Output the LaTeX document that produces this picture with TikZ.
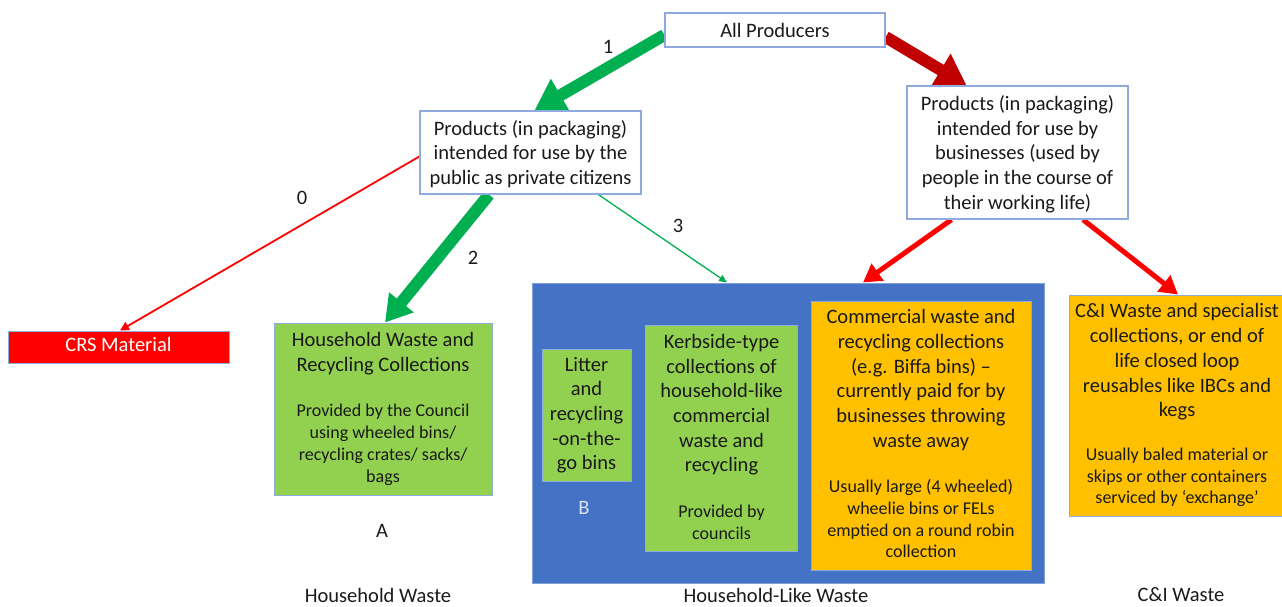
\documentclass[tikz,border=0pt]{standalone}
\usepackage{fontspec}
\setmainfont{Carlito}
\usetikzlibrary{arrows.meta}
\definecolor{bd}{HTML}{8FAADC}
\definecolor{grn}{HTML}{92D050}
\definecolor{org}{HTML}{FFC000}
\definecolor{blu}{HTML}{4472C4}
\definecolor{agrn}{HTML}{00B050}
\definecolor{dred}{HTML}{C00000}
\definecolor{rred}{HTML}{FF0000}
\definecolor{lblu}{HTML}{DAE3F3}
\definecolor{txt}{HTML}{1A1A1A}
\newcommand{\ftitle}{\fontsize{20.5}{24.7}\selectfont}
\newcommand{\fsub}{\fontsize{18}{21.7}\selectfont}
\newcommand{\tbk}[2]{{#1\begin{tabular}{@{}c@{}}#2\end{tabular}}}
\newcommand{\tbd}[2]{{#1\raisebox{0pt}[\dimexpr\height+5pt\relax][\depth]{\begin{tabular}{@{}c@{}}#2\end{tabular}}}}
\pgfdeclarelayer{bg}
\pgfsetlayers{bg,main}
\begin{document}
\begin{tikzpicture}[x=1pt,y=-1pt,
  wbox/.style={draw=bd, line width=1.3pt, fill=white, inner sep=0pt, align=center, text=txt},
  gbox/.style={draw=bd, line width=1pt, fill=grn, inner sep=0pt, align=center, text=txt},
  obox/.style={draw=bd, line width=1pt, fill=org, inner sep=0pt, align=center, text=txt},
  lbl/.style={inner sep=0pt, font=\ftitle, text=txt},
  fatarr/.style={line width=12pt, -{Triangle[length=30pt,width=36pt]}},
  medarr/.style={line width=5pt, rred, -{Triangle[length=18pt,width=20pt]}},
  thinarr/.style={line width=1.8pt, -{Triangle[length=9pt,width=9pt]}}]
\useasboundingbox (0,0) rectangle (1282,607);
% boxes
\node[wbox, minimum width=220pt, minimum height=34pt] (prod) at (775,30) {\tbd{\ftitle}{All Producers}};
\node[wbox, minimum width=221pt, minimum height=83pt] (pub) at (530.5,152.5)
  {\tbd{\ftitle}{Products (in packaging)\\intended for use by the\\public as private citizens}};
\node[wbox, minimum width=221pt, minimum height=133pt] (bus) at (1017.5,152.5)
  {\tbd{\ftitle}{Products (in packaging)\\intended for use by\\businesses (used by\\people in the course of\\their working life)}};
\node[draw=bd, line width=1pt, fill=rred, text=white, inner sep=0pt, minimum width=221pt, minimum height=32pt] (crs) at (118.5,347)
  {\tbk{\ftitle}{CRS Material}};
\node[gbox, minimum width=218pt, minimum height=172pt] (hh) at (383,409)
  {\tbk{\ftitle}{Household Waste and\\Recycling Collections}\\[22pt]\tbk{\fsub}{Provided by the Council\\using wheeled bins/\\recycling crates/ sacks/\\bags}};
\node[draw=bd!80!blu, line width=1pt, fill=blu, minimum width=512pt, minimum height=300pt] (blue) at (788,433) {};
\node[gbox, minimum width=89pt, minimum height=132pt] (litter) at (586.5,415.5)
  {\tbk{\ftitle}{Litter\\and\\recycling\\-on-the-\\go bins}};
\node[gbox, minimum width=152pt, minimum height=226pt] (kerb) at (721.5,438.5)
  {\tbk{\ftitle}{Kerbside-type\\collections of\\household-like\\commercial\\waste and\\recycling}\\[22pt]\tbk{\fsub}{Provided by\\councils}};
\node[obox, minimum width=220pt, minimum height=269pt] (comm) at (921,435.5)
  {\tbk{\ftitle}{Commercial waste and\\recycling collections\\(e.g. Biffa bins) --\\currently paid for by\\businesses throwing\\waste away}\\[22pt]\tbk{\fsub}{Usually large (4 wheeled)\\wheelie bins or FELs\\emptied on a round robin\\collection}};
\node[obox, minimum width=216pt, minimum height=221pt] (ci) at (1177,405.5)
  {\tbk{\ftitle}{C\&I Waste and specialist\\collections, or end of\\life closed loop\\reusables like IBCs and\\kegs}\\[20pt]\tbk{\fsub}{Usually baled material or\\skips or other containers\\serviced by ‘exchange’}};
% labels
\node[lbl] (l1) at (608,47) {1};
\node[lbl] (l0) at (302,198) {0};
\node[lbl] (l2) at (473,258) {2};
\node[lbl] (l3) at (678,226) {3};
\node[lbl] (lA) at (382,531) {A};
\node[lbl, text=lblu] (lB) at (584,508) {B};
\node[lbl] (hw) at (378,595) {Household Waste};
\node[lbl] (hlw) at (776,595) {Household-Like Waste};
\node[lbl] (ciw) at (1181,595) {C\&I Waste};
% arrows
\begin{pgfonlayer}{bg}
\draw[fatarr, agrn] ([yshift=-5pt]prod.west) -- ([xshift=4pt]pub.north);
\draw[fatarr, dred] ([yshift=-7pt]prod.east) -- ([xshift=-51pt]bus.north);
\draw[thinarr, rred] ([yshift=-4pt]pub.west) -- ([xshift=1.5pt]crs.north);
\draw[fatarr, agrn, -{Triangle[length=26pt,width=30pt]}] ([xshift=-41.5pt]pub.south) -- ([xshift=2pt]hh.north);
\draw[thinarr, agrn, line width=1.3pt, -{Triangle[length=8pt,width=7pt]}] ([xshift=68pt]pub.south) -- ([xshift=-61pt]blue.north);
\draw[medarr] ([xshift=-66pt]bus.south) -- ([xshift=75pt]blue.north);
\draw[medarr] ([xshift=65.5pt]bus.south) -- ([xshift=1pt]ci.north);
\end{pgfonlayer}
\end{tikzpicture}
\end{document}
